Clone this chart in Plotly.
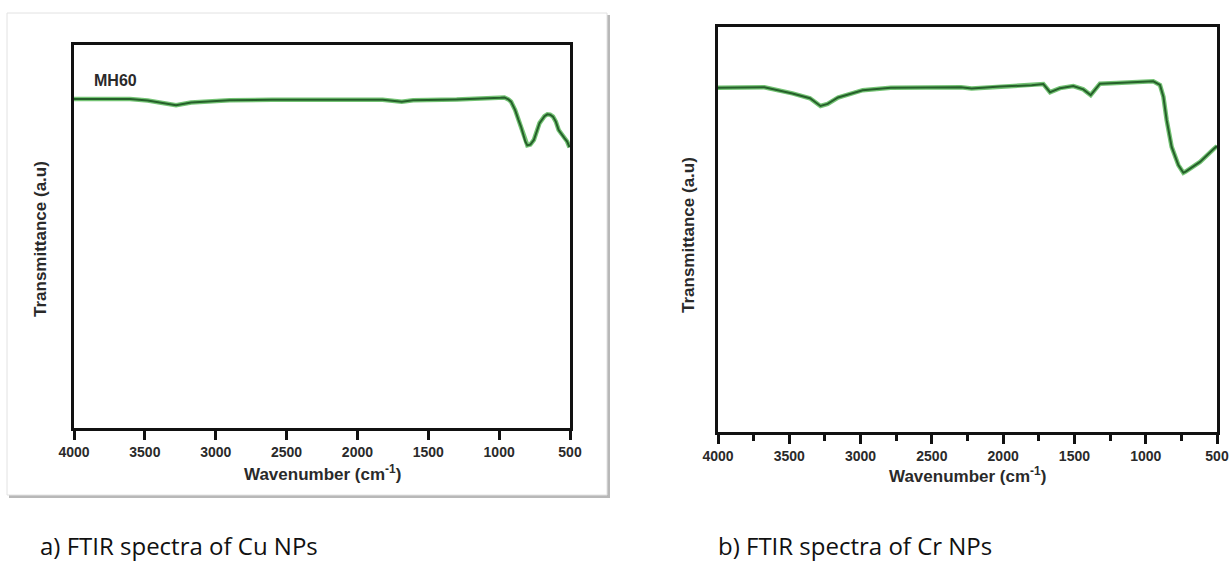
import plotly.graph_objects as go

# Cu NPs spectrum (MH60), read off panel a)
cu_wavenumber = [4000, 3800, 3605, 3480, 3388, 3280, 3174, 3000, 2902, 2600, 2363, 2100,
                 1822, 1687, 1607, 1300, 1065, 990, 963, 935, 916, 887, 863, 846, 815,
                 801, 780, 755, 715, 680, 660, 640, 620, 600, 580, 560, 539, 520, 503]
cu_transmittance = [85.9, 85.9, 85.9, 85.5, 85.0, 84.3, 85.0, 85.4, 85.6, 85.7, 85.7, 85.8,
                    85.7, 85.2, 85.6, 85.8, 86.0, 86.2, 86.3, 85.8, 85.2, 83.0, 80.4, 78.7, 74.8,
                    73.8, 74.0, 75.2, 79.6, 81.4, 81.9, 81.8, 81.3, 80.0, 77.8, 76.9, 75.7, 74.8, 73.3]

# Cr NPs spectrum, read off panel b)
cr_wavenumber = [4000, 3675, 3478, 3355, 3281, 3231, 3158, 2985, 2788, 2500, 2296, 2221,
                 2022, 1800, 1718, 1671, 1601, 1508, 1438, 1386, 1321, 1204, 1050, 947,
                 900, 876, 853, 818, 771, 736, 720, 689, 619, 526, 500]
cr_transmittance = [85.0, 85.1, 83.6, 82.4, 80.5, 81.0, 82.6, 84.4, 85.0, 85.1, 85.1, 84.8,
                    85.3, 85.6, 85.9, 83.9, 84.9, 85.4, 84.6, 83.2, 86.0, 86.2, 86.5, 86.6,
                    85.7, 82.8, 77.0, 70.4, 65.9, 64.0, 64.3, 65.1, 66.7, 69.8, 70.6]

tick_values = [4000, 3500, 3000, 2500, 2000, 1500, 1000, 500]

W, H = 1231, 564


def px(x):
    return x / W


def py(y):
    return 1 - y / H


fig = go.Figure()

# each curve: light green halo under a dark green core
for xs, ys, xa, ya in [(cu_wavenumber, cu_transmittance, 'x', 'y'),
                       (cr_wavenumber, cr_transmittance, 'x2', 'y2')]:
    fig.add_trace(go.Scatter(x=xs, y=ys, xaxis=xa, yaxis=ya, mode='lines',
                             line=dict(color='rgba(70,175,70,0.75)', width=4.5),
                             hoverinfo='skip', showlegend=False))
    fig.add_trace(go.Scatter(x=xs, y=ys, xaxis=xa, yaxis=ya, mode='lines',
                             line=dict(color='#25602a', width=2), showlegend=False))

tick_font = dict(family='Liberation Sans', size=14, weight='bold', color='#2a2a2a')
axis_common = dict(range=[4000, 500], tickvals=tick_values, ticks='outside', ticklen=9,
                   tickwidth=2.5, tickcolor='#111', showline=True, linecolor='#111',
                   linewidth=2.5, mirror=True, showgrid=False, zeroline=False,
                   tickfont=tick_font, automargin=False)
yaxis_common = dict(range=[0, 100], showticklabels=False, ticks='', showline=True,
                    linecolor='#111', linewidth=2.5, mirror=True, showgrid=False,
                    zeroline=False, automargin=False)

fig.update_layout(
    width=W, height=H,
    margin=dict(l=0, r=0, t=0, b=0),
    paper_bgcolor='white', plot_bgcolor='white',
    xaxis=dict(domain=[px(74), px(570)], anchor='y', **axis_common),
    yaxis=dict(domain=[py(428), py(45)], anchor='x', **yaxis_common),
    xaxis2=dict(domain=[px(718), px(1217)], anchor='y2',
                minor=dict(dtick=250, ticks='outside', ticklen=6, tickwidth=2.5,
                           tickcolor='#111'),
                **axis_common),
    yaxis2=dict(domain=[py(432), py(27)], anchor='x2', **yaxis_common),
)

# card behind panel a) with a soft shadow
fig.add_shape(type='rect', xref='paper', yref='paper', layer='below',
              x0=px(9), x1=px(610), y0=py(498), y1=py(15),
              line=dict(width=0), fillcolor='#b8b8b8')
fig.add_shape(type='rect', xref='paper', yref='paper', layer='below',
              x0=px(7), x1=px(607), y0=py(495), y1=py(13),
              line=dict(color='#e2e2e2', width=1), fillcolor='white')

label_font = dict(family='Liberation Sans', size=17, weight='bold', color='#2a2a2a')
caption_font = dict(family='Open Sans', size=24, color='#111')

texts = [
    ('Wavenumber (cm<sup>-1</sup>)', 322, 473, 0, 'center', label_font),
    ('Wavenumber (cm<sup>-1</sup>)', 967, 475, 0, 'center', label_font),
    ('Transmittance (a.u)', 41, 239, -90, 'center', label_font),
    ('Transmittance (a.u)', 688, 235, -90, 'center', label_font),
    ('MH60', 92, 81, 0, 'left', dict(label_font, size=16)),
    ('a) FTIR spectra of Cu NPs', 38, 545, 0, 'left', caption_font),
    ('b) FTIR spectra of Cr NPs', 716, 545, 0, 'left', caption_font),
]
for text, x, y, angle, xanchor, font in texts:
    fig.add_annotation(text=text, xref='paper', yref='paper', x=px(x), y=py(y),
                       xanchor=xanchor, yanchor='middle', textangle=angle,
                       showarrow=False, font=font)

# drop the page's default body margin so the figure sits at the window origin
fig.write_html("out.html", config={'displayModeBar': False},
               post_script="document.body.style.margin = '0';")
